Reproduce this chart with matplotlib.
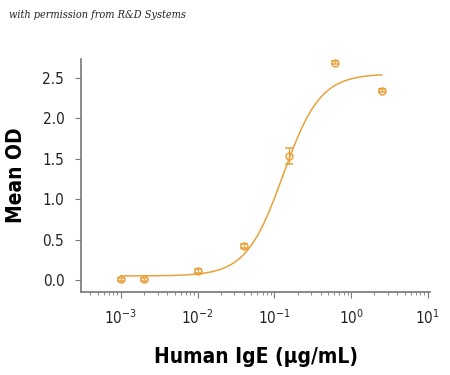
import numpy as np
import matplotlib.pyplot as plt

conc = [0.001, 0.002, 0.01, 0.04, 0.156, 0.625, 2.5]
od = [0.01, 0.01, 0.11, 0.42, 1.53, 2.69, 2.34]
err = [0.02, 0.02, 0.02, 0.02, 0.10, 0.02, 0.02]

# 4PL fit parameters (bottom, top, ec50, hill)
fit = [0.05, 2.55, 0.13, 1.8]

plt.rcParams['font.family'] = ['DejaVu Sans']
plt.rcParams['font.stretch'] = 'condensed'

col = '#E9A23B'

fig = plt.figure(figsize=(4.5, 3.75), dpi=100)
ax = fig.add_axes([0.18, 0.221, 0.776, 0.622])

xs = np.logspace(-3, np.log10(2.5), 300)
b, t, c, h = fit
ax.plot(xs, b + (t - b) / (1 + (c / xs) ** h), color=col, lw=1.1)
ax.errorbar(conc, od, yerr=err, fmt='o', mfc='none', mec=col, ecolor=col,
            color=col, ms=5, mew=1.1, capsize=3, elinewidth=0.9)

ax.set_xscale('log')
ax.set_xlim(10 ** -3.52, 10 ** 1.03)
ax.set_ylim(-0.15, 2.735)
ax.set_yticks([0, 0.5, 1.0, 1.5, 2.0, 2.5])
ax.set_yticklabels(['0.0', '0.5', '1.0', '1.5', '2.0', '2.5'])
ax.set_xticks([1e-3, 1e-2, 1e-1, 1e0, 1e1])
ax.set_xticklabels(['$\\mathregular{10^{-3}}$', '$\\mathregular{10^{-2}}$',
                    '$\\mathregular{10^{-1}}$', '$\\mathregular{10^{0}}$',
                    '$\\mathregular{10^{1}}$'])

for s in ['top', 'right']:
    ax.spines[s].set_visible(False)
for s in ['left', 'bottom']:
    ax.spines[s].set_color('#777777')
    ax.spines[s].set_linewidth(1.2)
ax.tick_params(colors='#777777', labelcolor='#222222', labelsize=11, length=4, pad=8)
ax.tick_params(axis='x', which='minor', colors='#777777', length=2.5)

ax.set_ylabel('Mean OD', fontsize=15, fontweight='bold', labelpad=12)
ax.set_xlabel('Human IgE (μg/mL)', fontsize=15, fontweight='bold', labelpad=14)

fig.text(0.02, 0.952, 'with permission from R&D Systems', fontsize=7.8,
         style='italic', family='DejaVu Serif', color='#222222')

fig.savefig('out.png', dpi=100)
